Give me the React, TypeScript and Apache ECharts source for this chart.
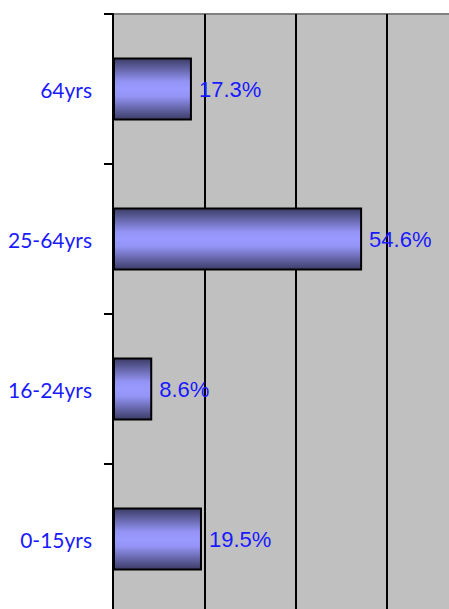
import React, { useEffect, useRef } from "react";
import * as echarts from "echarts";

const categories = ["0-15yrs", "16-24yrs", "25-64yrs", "64yrs"];
const values = [19.5, 8.6, 54.6, 17.3];
const axisMax = 80;
const axisStep = 20;

export default function App() {
  const ref = useRef<HTMLDivElement>(null);
  useEffect(() => {
    if (!ref.current) return;
    const chart = echarts.init(ref.current, undefined, { renderer: "svg" });
    chart.setOption({
      animation: false,
      backgroundColor: "#ffffff",
      grid: {
        left: 113,
        top: 14,
        width: 365,
        height: 600,
        show: true,
        backgroundColor: "#C0C0C0",
        borderColor: "#808080",
        borderWidth: 2,
      },
      xAxis: {
        type: "value",
        min: 0,
        max: axisMax,
        interval: axisStep,
        axisLabel: { show: false },
        axisLine: { show: false },
        axisTick: { show: false },
        splitLine: { show: true, lineStyle: { color: "#000000", width: 2 } },
      },
      yAxis: {
        type: "category",
        data: categories,
        axisLine: { show: true, lineStyle: { color: "#000000", width: 2 } },
        axisTick: { show: true, length: 9, lineStyle: { color: "#000000", width: 2 } },
        axisLabel: {
          color: "#1a1aff",
          fontFamily: "Lato",
          fontSize: 21,
          margin: 21,
          padding: [0, 0, 4, 0],
        },
      },
      series: [
        {
          type: "bar",
          data: values,
          barWidth: 63,
          itemStyle: {
            borderColor: "#000000",
            borderWidth: 2,
            color: new echarts.graphic.LinearGradient(0, 0, 0, 1, [
              { offset: 0, color: "#3c3c66" },
              { offset: 0.38, color: "#9494f6" },
              { offset: 0.5, color: "#9999ff" },
              { offset: 0.62, color: "#9494f6" },
              { offset: 1, color: "#3c3c66" },
            ]),
          },
          label: {
            show: true,
            position: "right",
            distance: 7,
            color: "#1a1aff",
            fontFamily: "Liberation Sans",
            fontWeight: "normal",
            fontSize: 22,
            formatter: (p: any) => p.value.toFixed(1) + "%",
          },
        },
      ],
    });
    return () => chart.dispose();
  }, []);
  return (
    <div style={{ position: "absolute", left: 0, top: 0, width: 449, height: 609, overflow: "hidden" }}>
      <div ref={ref} style={{ width: 490, height: 620 }} />
    </div>
  );
}
